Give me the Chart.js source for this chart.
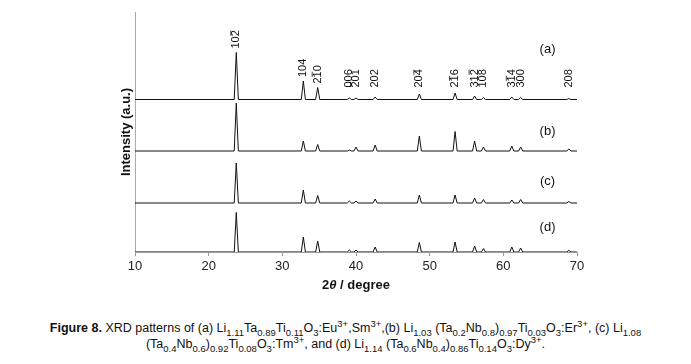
<!DOCTYPE html>
<html>
<head>
<meta charset="utf-8">
<script src="https://cdn.jsdelivr.net/npm/chart.js@4.4.0/dist/chart.umd.min.js"></script>
<style>
  body { margin: 0; background: #fff; width: 691px; height: 364px; overflow: hidden; font-family: "Liberation Sans", Arial, sans-serif; }
  #wrap { position: absolute; left: 0; top: 0; width: 691px; height: 300px; }
  #caption { position: absolute; left: 0; top: 320px; width: 691px; text-align: center; font-size: 12.5px; line-height: 16px; color: #111; white-space: nowrap; }
  #caption sub, #caption sup { font-size: 9.5px; line-height: 0; }
</style>
</head>
<body>
<div id="wrap"><canvas id="grafico_xrd" width="691" height="300"></canvas></div>
<div id="caption"><b>Figure 8.</b> XRD patterns of (a) Li<sub>1.11</sub>Ta<sub>0.89</sub>Ti<sub>0.11</sub>O<sub>3</sub>:Eu<sup>3+</sup>,Sm<sup>3+</sup>,(b) Li<sub>1.03</sub> (Ta<sub>0.2</sub>Nb<sub>0.8</sub>)<sub>0.97</sub>Ti<sub>0.03</sub>O<sub>3</sub>:Er<sup>3+</sup>, (c) Li<sub>1.08</sub><br>(Ta<sub>0.4</sub>Nb<sub>0.6</sub>)<sub>0.92</sub>Ti<sub>0.08</sub>O<sub>3</sub>:Tm<sup>3+</sup>, and (d) Li<sub>1.14</sub> (Ta<sub>0.6</sub>Nb<sub>0.4</sub>)<sub>0.86</sub>Ti<sub>0.14</sub>O<sub>3</sub>:Dy<sup>3+</sup>.</div>
<script>
// peak positions (2theta, degree) shared by all four patterns
const picos = [23.75, 32.85, 34.8, 39.1, 40.0, 42.6, 48.6, 53.45, 56.1, 57.3, 61.15, 62.35, 68.9]
// (hkl) labels of pattern (a), and which digit carries the bar (-1 = none)
const hkl = ['102', '104', '210', '006', '201', '202', '204', '216', '312', '108', '314', '300', '208']
const hkl_barra = [2, -1, 1, -1, 0, -1, 2, 1, 2, -1, 1, -1, -1]

// peak heights (a.u.) per pattern
const altura_a = [47, 18.5, 12, 1.5, 1.5, 2.5, 5.5, 6.5, 3.5, 2, 2.5, 2, 1]
const altura_b = [48, 10, 6.5, 1, 4, 6, 15, 19.5, 10, 4, 5, 4, 2]
const altura_c = [40, 13, 7.5, 2, 2, 4, 8, 8, 5, 3.5, 3, 3.5, 1.5]
const altura_d = [39.5, 15, 11, 2, 2, 5, 9.5, 10, 6, 3.5, 5, 4, 1.7]

// vertical offset of each pattern (a.u.)
const deslocamento = [152.5, 101, 49, 0]
const nomes = ['(a)', '(b)', '(c)', '(d)']
const ticks_x = [10, 20, 30, 40, 50, 60, 70]

const meia_largura = 0.28

function padrao(alturas, base) {
    const pts = [{x: 10, y: base}]
    picos.forEach((p, i) => {
        pts.push({x: p - meia_largura, y: base})
        pts.push({x: p, y: base + alturas[i]})
        pts.push({x: p + meia_largura, y: base})
    })
    pts.push({x: 70, y: base})
    return pts
}

const alturas = [altura_a, altura_b, altura_c, altura_d]

const rotulos = {
    id: 'rotulos',
    afterDatasetsDraw(chart) {
        const ctx = chart.ctx
        const xs = chart.scales.x
        const ys = chart.scales.y
        ctx.save()
        ctx.fillStyle = '#111'
        ctx.strokeStyle = '#111'
        ctx.lineWidth = 0.8
        // hkl labels over pattern (a)
        ctx.font = '11px "Liberation Sans", Arial, sans-serif'
        const limite = ys.getPixelForValue(deslocamento[0]) - 12
        picos.forEach((p, i) => {
            const px = xs.getPixelForValue(p)
            const topo = ys.getPixelForValue(deslocamento[0] + altura_a[i])
            const py = Math.min(topo - 4, limite)
            ctx.save()
            ctx.translate(px, py)
            ctx.rotate(-Math.PI / 2)
            ctx.textAlign = 'left'
            ctx.textBaseline = 'middle'
            ctx.fillText(hkl[i], 0, 0)
            const b = hkl_barra[i]
            if (b >= 0) {
                const x0 = ctx.measureText(hkl[i].slice(0, b)).width
                const w = ctx.measureText(hkl[i][b]).width
                ctx.beginPath()
                ctx.moveTo(x0 + 0.5, -5.5)
                ctx.lineTo(x0 + w - 0.5, -5.5)
                ctx.stroke()
            }
            ctx.restore()
        })
        // pattern names
        ctx.font = '13px "Liberation Sans", Arial, sans-serif'
        ctx.textAlign = 'center'
        ctx.textBaseline = 'middle'
        const pos_nome = [203, 121, 71, 25]
        nomes.forEach((n, i) => {
            ctx.fillText(n, xs.getPixelForValue(66.0), ys.getPixelForValue(pos_nome[i]))
        })
        // x axis title: 2θ / degree
        const cx = (chart.chartArea.left + chart.chartArea.right) / 2
        const cy = 285
        const partes = [
            ['2', 'bold 13px "Liberation Sans", Arial, sans-serif'],
            ['θ', 'italic bold 13px "Liberation Sans", Arial, sans-serif'],
            [' / degree', 'bold 13px "Liberation Sans", Arial, sans-serif']
        ]
        let total = 0
        partes.forEach(pt => { ctx.font = pt[1]; total += ctx.measureText(pt[0]).width })
        let x = cx - total / 2
        ctx.textAlign = 'left'
        partes.forEach(pt => {
            ctx.font = pt[1]
            ctx.fillText(pt[0], x, cy)
            x += ctx.measureText(pt[0]).width
        })
        ctx.restore()
    }
}

const ctx_xrd = document.getElementById('grafico_xrd').getContext('2d')

let grafico_xrd = new Chart(ctx_xrd, {
    type: 'line',
    data: {
        datasets: alturas.map((h, i) => ({
            label: nomes[i],
            data: padrao(h, deslocamento[i]),
            borderColor: '#111',
            borderWidth: 1,
            pointRadius: 0,
            tension: 0,
            fill: false
        }))
    },
    options: {
        responsive: false,
        animation: false,
        layout: {
            padding: {left: 119, right: 114, top: 12, bottom: 8}
        },
        plugins: {
            legend: {display: false},
            tooltip: {enabled: false},
            title: {display: false}
        },
        scales: {
            x: {
                type: 'linear',
                min: 10,
                max: 70,
                afterBuildTicks: (scale) => { scale.ticks = ticks_x.map(v => ({value: v})) },
                afterFit: (scale) => { scale.height = 40 },
                grid: {drawOnChartArea: false, drawTicks: true, tickLength: 4, color: '#999'},
                border: {display: true, color: '#999'},
                ticks: {
                    color: '#222',
                    padding: 3,
                    maxRotation: 0,
                    font: {family: '"Liberation Sans", Arial, sans-serif', size: 13}
                }
            },
            y: {
                min: 0,
                max: 240,
                afterFit: (scale) => { scale.width = 16 },
                grid: {display: false},
                border: {display: true, color: '#aaa'},
                ticks: {display: false},
                title: {
                    display: true,
                    text: 'Intensity (a.u.)',
                    color: '#111',
                    padding: 0,
                    font: {family: '"Liberation Sans", Arial, sans-serif', size: 13, weight: 'bold'}
                }
            }
        }
    },
    plugins: [rotulos]
});
</script>
</body>
</html>
